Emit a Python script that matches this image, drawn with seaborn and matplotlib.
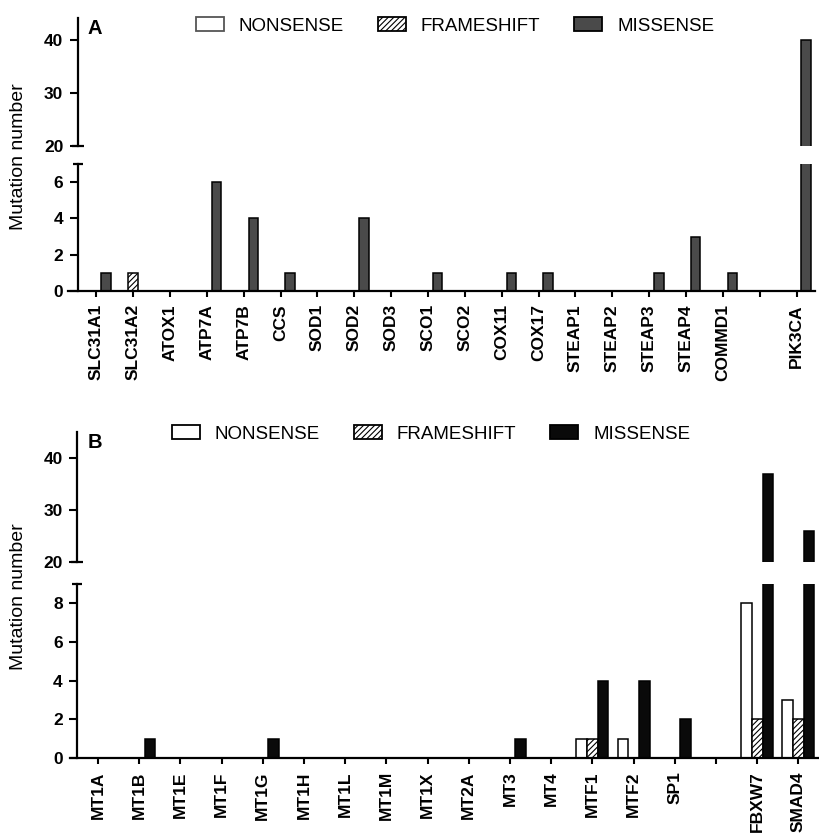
import matplotlib.pyplot as plt
import pandas as pd
import seaborn as sns
from matplotlib.patches import Patch

TYPES = ["NONSENSE", "FRAMESHIFT", "MISSENSE"]

# Panel A: copper metabolism genes ("" = empty slot before PIK3CA)
GENES_A = ["SLC31A1", "SLC31A2", "ATOX1", "ATP7A", "ATP7B", "CCS", "SOD1", "SOD2",
           "SOD3", "SCO1", "SCO2", "COX11", "COX17", "STEAP1", "STEAP2", "STEAP3",
           "STEAP4", "COMMD1", "", "PIK3CA"]
NONSENSE_A = [0, 0, 0, 0, 0, 0, 0, 0, 0, 0, 0, 0, 0, 0, 0, 0, 0, 0, 0, 0]
FRAMESHIFT_A = [0, 1, 0, 0, 0, 0, 0, 0, 0, 0, 0, 0, 0, 0, 0, 0, 0, 0, 0, 0]
MISSENSE_A = [1, 0, 0, 6, 4, 1, 0, 4, 0, 1, 0, 1, 1, 0, 0, 1, 3, 1, 0, 40]

# Panel B: metallothioneins and regulators
GENES_B = ["MT1A", "MT1B", "MT1E", "MT1F", "MT1G", "MT1H", "MT1L", "MT1M", "MT1X",
           "MT2A", "MT3", "MT4", "MTF1", "MTF2", "SP1", "", "FBXW7", "SMAD4"]
NONSENSE_B = [0, 0, 0, 0, 0, 0, 0, 0, 0, 0, 0, 0, 1, 1, 0, 0, 8, 3]
FRAMESHIFT_B = [0, 0, 0, 0, 0, 0, 0, 0, 0, 0, 0, 0, 1, 0, 0, 0, 2, 2]
MISSENSE_B = [0, 1, 0, 0, 1, 0, 0, 0, 0, 0, 1, 0, 4, 4, 2, 0, 37, 26]

W, H = 819, 836


def to_long(genes, nonsense, frameshift, missense):
    rows = []
    for i, g in enumerate(genes):
        for t, vals in zip(TYPES, [nonsense, frameshift, missense]):
            rows.append({"gene": g, "type": t, "count": vals[i]})
    return pd.DataFrame(rows)


def px_rect(left, right, top, bottom):
    return [left / W, 1 - bottom / H, (right - left) / W, (bottom - top) / H]


def style_y(ax):
    ax.tick_params(axis="y", direction="out", length=5.5, width=1.5, pad=5,
                   labelsize=12.5, colors="black")
    ax.set_ylabel("")
    ax.spines["left"].set_linewidth(1.6)
    ax.spines["left"].set_position(("data", -0.5))
    ax.spines["right"].set_visible(False)
    ax.spines["top"].set_visible(False)


def draw_panel(fig, df, genes, miss_color, left, right, rows_px, xlim,
               ylim_up, yticks_up, ylim_lo, yticks_lo, letter, leg_xy, leg_edge):
    ax_up = fig.add_axes(px_rect(left, right, rows_px[0], rows_px[1]))
    ax_lo = fig.add_axes(px_rect(left, right, rows_px[2], rows_px[3]))
    palette = {"NONSENSE": "white", "FRAMESHIFT": "white", "MISSENSE": miss_color}

    for ax in (ax_up, ax_lo):
        sns.barplot(data=df, x="gene", y="count", hue="type", order=genes,
                    hue_order=TYPES, palette=palette, saturation=1,
                    edgecolor="black", linewidth=1.1, width=0.78,
                    errorbar=None, legend=False, ax=ax)
        for bar in ax.containers[1]:
            bar.set_hatch("//////")
        ax.set_xlim(*xlim)
        ax.set_xlabel("")
        style_y(ax)

    ax_up.set_ylim(*ylim_up)
    ax_up.set_yticks(yticks_up)
    ax_up.spines["bottom"].set_visible(False)
    ax_up.tick_params(axis="x", bottom=False, labelbottom=False)

    ax_lo.set_ylim(*ylim_lo)
    ax_lo.set_yticks(yticks_lo)
    ax_lo.spines["bottom"].set_linewidth(1.6)
    ax_lo.set_xticks(range(len(genes)))
    ax_lo.set_xticklabels(genes, rotation=90, fontweight="bold", fontsize=12.5)
    ax_lo.tick_params(axis="x", direction="out", length=4.5, width=1.5, pad=5,
                      colors="black")
    for ax in (ax_up, ax_lo):
        for lab in ax.get_yticklabels():
            lab.set_fontweight("bold")

    # break caps on the y axis
    ax_up.plot([-0.5], [ylim_up[0]], marker="_", markersize=9, mew=1.6,
               color="black", clip_on=False)
    ax_lo.plot([-0.5], [ylim_lo[1]], marker="_", markersize=7, mew=1.6,
               color="black", clip_on=False)

    y_mid = (rows_px[0] + rows_px[3]) / 2 + 2
    fig.text(19 / W, 1 - y_mid / H, "Mutation number", rotation=90,
             ha="center", va="center", fontsize=14)
    fig.text(88 / W, 1 - (rows_px[0] + 10) / H, letter, fontsize=14.5,
             fontweight="bold", ha="left", va="center")

    handles = [
        Patch(facecolor="white", edgecolor=leg_edge, linewidth=1.3),
        Patch(facecolor="white", edgecolor="black", hatch="//////", linewidth=1.3),
        Patch(facecolor=miss_color, edgecolor="black", linewidth=1.3),
    ]
    fig.legend(handles, TYPES, loc="center",
               bbox_to_anchor=(leg_xy[0] / W, 1 - leg_xy[1] / H),
               ncol=3, frameon=False, fontsize=13.5, handlelength=1.5,
               handleheight=0.75, handletextpad=0.8, columnspacing=1.8)
    return ax_up, ax_lo


def main():
    sns.set_style("ticks")
    plt.rcParams["font.family"] = ["Liberation Sans", "DejaVu Sans"]
    plt.rcParams["hatch.linewidth"] = 0.8
    plt.rcParams["text.color"] = "black"
    plt.rcParams["axes.edgecolor"] = "black"
    plt.rcParams["axes.labelcolor"] = "black"
    plt.rcParams["xtick.color"] = "black"
    plt.rcParams["ytick.color"] = "black"

    fig = plt.figure(figsize=(W / 100, H / 100), dpi=100)

    df_a = to_long(GENES_A, NONSENSE_A, FRAMESHIFT_A, MISSENSE_A)
    df_b = to_long(GENES_B, NONSENSE_B, FRAMESHIFT_B, MISSENSE_B)

    draw_panel(fig, df_a, GENES_A, "#4a4a4a", 68, 815, (18, 146, 164, 291),
               (-0.77, 19.5), (20, 44.2), [20, 30, 40], (0, 7), [0, 2, 4, 6],
               "A", (455, 26), "#555555")
    draw_panel(fig, df_b, GENES_B, "#0a0a0a", 70, 819, (432, 562, 584, 758),
               (-0.68, 17.5), (20, 45), [20, 30, 40], (0, 9), [0, 2, 4, 6, 8],
               "B", (431, 434), "black")

    fig.savefig("out.png", dpi=100)
    plt.close(fig)


if __name__ == "__main__":
    main()
